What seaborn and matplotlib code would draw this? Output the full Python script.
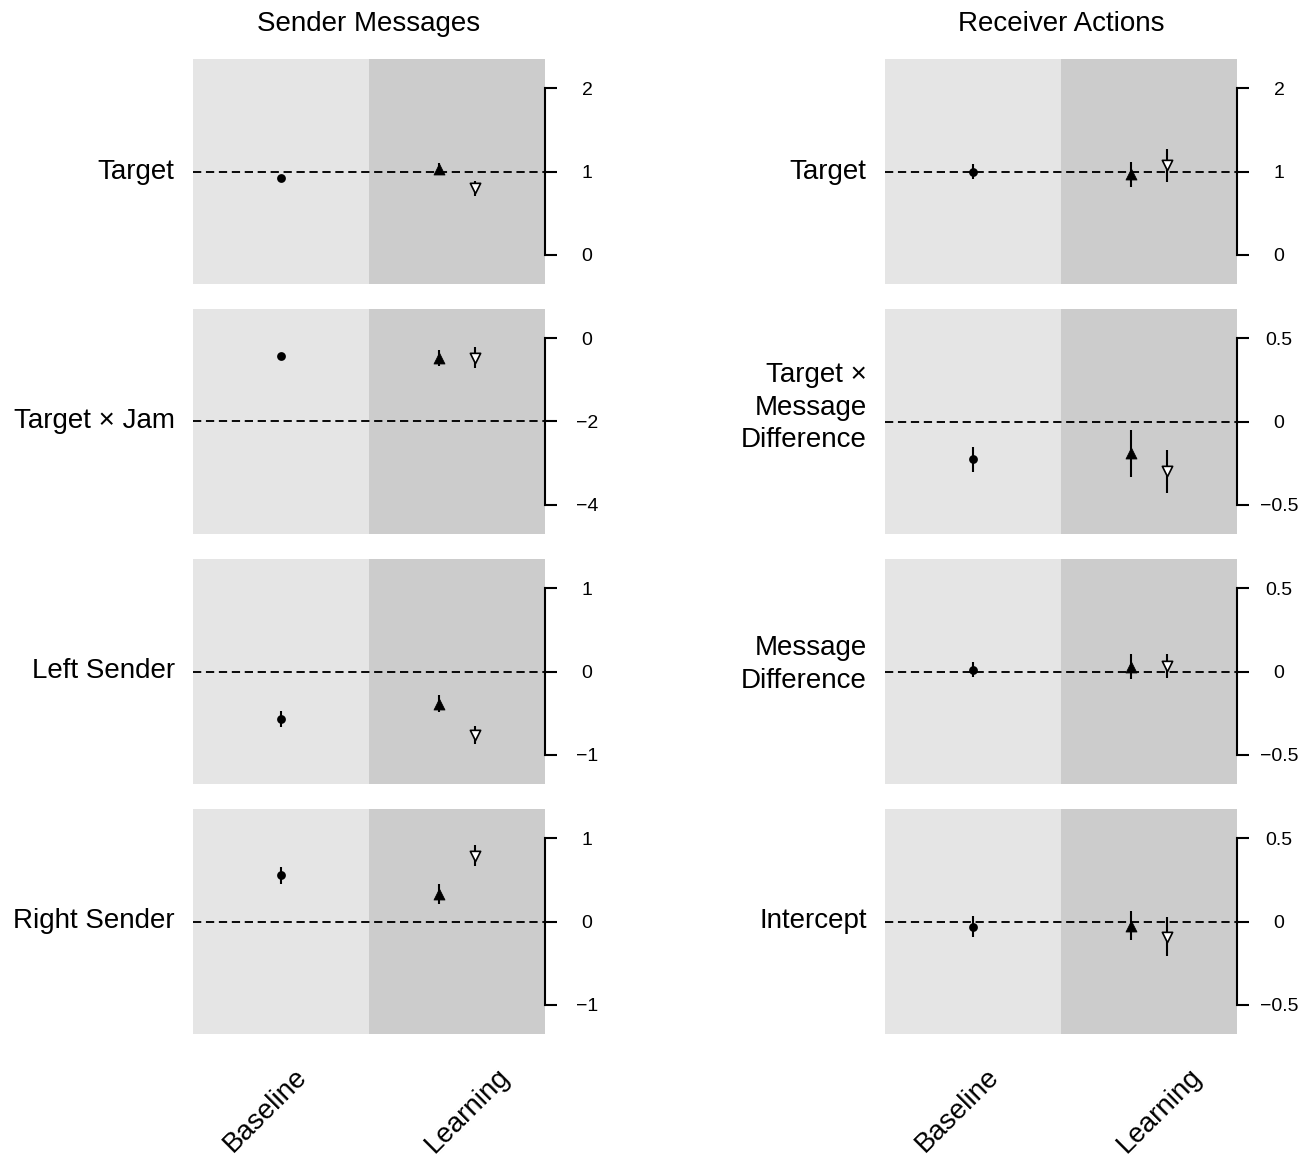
import numpy as np
import pandas as pd
import matplotlib
matplotlib.use("Agg")
import matplotlib.pyplot as plt
import seaborn as sns
from matplotlib.transforms import blended_transform_factory
from matplotlib.ticker import FuncFormatter

# ---------------- data ----------------
column_titles = ["Sender Messages", "Receiver Actions"]
condition_labels = ["Baseline", "Learning"]

sender_terms = ["Target", "Target × Jam", "Left Sender", "Right Sender"]
sender_ref = [1, -2, 0, 0]
sender_ticks = [[0, 1, 2], [-4, -2, 0], [-1, 0, 1], [-1, 0, 1]]
sender_baseline = [0.92, -0.42, -0.57, 0.555]
sender_baseline_err = [0.04, 0.05, 0.10, 0.105]
sender_learn_up = [1.03, -0.48, -0.385, 0.33]
sender_learn_up_err = [0.07, 0.20, 0.105, 0.115]
sender_learn_down = [0.80, -0.47, -0.76, 0.79]
sender_learn_down_err = [0.09, 0.25, 0.11, 0.125]

receiver_terms = ["Target", "Target ×\nMessage\nDifference", "Message\nDifference", "Intercept"]
receiver_ref = [1, 0, 0, 0]
receiver_ticks = [[0, 1, 2], [-0.5, 0, 0.5], [-0.5, 0, 0.5], [-0.5, 0, 0.5]]
receiver_baseline = [1.0, -0.227, 0.012, -0.032]
receiver_baseline_err = [0.09, 0.076, 0.044, 0.063]
receiver_learn_up = [0.97, -0.19, 0.03, -0.024]
receiver_learn_up_err = [0.15, 0.14, 0.077, 0.085]
receiver_learn_down = [1.075, -0.298, 0.033, -0.09]
receiver_learn_down_err = [0.195, 0.13, 0.074, 0.116]

# ---------------- style ----------------
sns.set_theme(style="white")
plt.rcParams["font.family"] = ["Liberation Sans", "DejaVu Sans"]
plt.rcParams["axes.unicode_minus"] = True

W, H = 1312, 1158
fig = plt.figure(figsize=(W / 100, H / 100), dpi=100)

LIGHT = "#E5E5E5"
DARK = "#CCCCCC"
BIG = 20
SMALL = 14

col_left_px = [193, 885]
panel_w_px = 352
row_top_px = [59, 309, 559, 809]
panel_h_px = 225

fmt = FuncFormatter(lambda v, p: f"{v:g}".replace("-", "\u2212"))

columns = [
    dict(terms=sender_terms, ref=sender_ref, ticks=sender_ticks,
         base=sender_baseline, base_err=sender_baseline_err,
         up=sender_learn_up, up_err=sender_learn_up_err,
         down=sender_learn_down, down_err=sender_learn_down_err),
    dict(terms=receiver_terms, ref=receiver_ref, ticks=receiver_ticks,
         base=receiver_baseline, base_err=receiver_baseline_err,
         up=receiver_learn_up, up_err=receiver_learn_up_err,
         down=receiver_learn_down, down_err=receiver_learn_down_err),
]

dodge = 0.1
for ci, col in enumerate(columns):
    for ri in range(4):
        left = col_left_px[ci] / W
        bottom = 1 - (row_top_px[ri] + panel_h_px) / H
        ax = fig.add_axes([left, bottom, panel_w_px / W, panel_h_px / H])
        ax.set_facecolor("none")

        ticks = col["ticks"][ri]
        ref = col["ref"][ri]
        step = ticks[1] - ticks[0]
        ax.set_xlim(0, 2)
        ax.set_ylim(ref - 1.35 * step, ref + 1.35 * step)

        ax.axvspan(0, 1, color=LIGHT, lw=0, zorder=0)
        ax.axvspan(1, 2, color=DARK, lw=0, zorder=0)
        ax.axhline(ref, color="black", lw=1.35, ls=(0, (4.4, 2.5)), zorder=1)

        df = pd.DataFrame({
            "cond": [condition_labels[0], condition_labels[1], condition_labels[1]],
            "series": ["base", "up", "down"],
            "est": [col["base"][ri], col["up"][ri], col["down"][ri]],
            "err": [col["base_err"][ri], col["up_err"][ri], col["down_err"][ri]],
        })
        df["x"] = df["cond"].map({condition_labels[0]: 0.5, condition_labels[1]: 1.5})
        df.loc[df["series"] == "up", "x"] -= dodge
        df.loc[df["series"] == "down", "x"] += dodge

        ax.errorbar(df["x"], df["est"], yerr=df["err"], fmt="none",
                    ecolor="black", elinewidth=1.5, capsize=0, zorder=3)
        b = df[df["series"] == "base"]
        u = df[df["series"] == "up"]
        d = df[df["series"] == "down"]
        sns.scatterplot(x=b["x"], y=b["est"], marker="o", color="black",
                        s=40, linewidth=0, ax=ax, zorder=4)
        sns.scatterplot(x=u["x"], y=u["est"], marker="^", color="black",
                        s=62, edgecolor="black", linewidth=0.6, ax=ax, zorder=4)
        sns.scatterplot(x=d["x"], y=d["est"], marker="v", color="white",
                        s=55, edgecolor="black", linewidth=1.2, ax=ax, zorder=4)
        ax.set_xlabel("")
        ax.set_ylabel("")

        for s in ["left", "top", "bottom"]:
            ax.spines[s].set_visible(False)
        ax.spines["right"].set_visible(True)
        ax.spines["right"].set_color("black")
        ax.spines["right"].set_linewidth(1.5)
        ax.spines["right"].set_bounds(ticks[0], ticks[-1])
        ax.spines["right"].set_zorder(5)

        ax.set_xticks([])
        ax.yaxis.tick_right()
        ax.set_yticks(ticks)
        ax.yaxis.set_major_formatter(fmt)
        ax.tick_params(axis="y", which="major", direction="out", length=8.6,
                       width=1.5, color="black", pad=21.6, labelsize=SMALL,
                       labelcolor="black", left=False, right=True)
        for lbl in ax.get_yticklabels():
            lbl.set_horizontalalignment("center")

        term = col["terms"][ri]
        nlines = term.count("\n") + 1
        trans = blended_transform_factory(ax.transAxes, ax.transData)
        ax.annotate(term, xy=(-0.052, ref), xycoords=trans,
                    xytext=(0, (nlines - 1) * 5.0), textcoords="offset points",
                    ha="right", va="center", fontsize=BIG, linespacing=1.33,
                    color="black", annotation_clip=False)

        if ri == 3:
            ax.text(0.205, -0.338, condition_labels[0], transform=ax.transAxes,
                    rotation=45, ha="center", va="center", fontsize=BIG, color="black")
            ax.text(0.78, -0.34, condition_labels[1], transform=ax.transAxes,
                    rotation=45, ha="center", va="center", fontsize=BIG, color="black")

fig.text((col_left_px[0] + panel_w_px / 2) / W, 1 - 31 / H, column_titles[0],
         ha="center", va="baseline", fontsize=BIG, color="black")
fig.text((col_left_px[1] + panel_w_px / 2) / W, 1 - 31 / H, column_titles[1],
         ha="center", va="baseline", fontsize=BIG, color="black")

fig.savefig("out.png", dpi=100, facecolor="white")
